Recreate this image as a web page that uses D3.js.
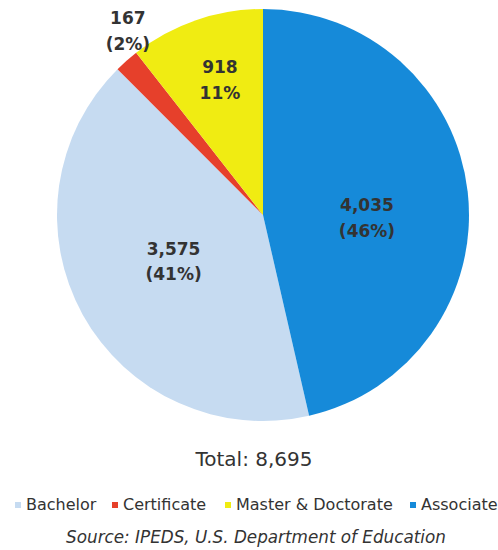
<!DOCTYPE html>
<html>
<head>
<meta charset="utf-8">
<script src="https://cdn.jsdelivr.net/npm/d3@7"></script>
<style>
  body { margin: 0; background: #fff; }
  svg { display: block; }
  .slice-label { font-family: "DejaVu Sans", sans-serif; font-weight: bold; font-size: 17px; fill: #333; }
  .legend-text { font-family: "DejaVu Sans", sans-serif; font-size: 16px; fill: #333; }
</style>
</head>
<body>
<svg id="chart"></svg>
<script>
// chart data
const categories = ['Bachelor', 'Certificate', 'Master & Doctorate', 'Associate'];
const values = [3575, 167, 918, 4035];
const valueLabels = ['3,575', '167', '918', '4,035'];
const percentLabels = ['(41%)', '(2%)', '11%', '(46%)'];
const totalLabel = 'Total: 8,695';
const sourceLabel = 'Source: IPEDS, U.S. Department of Education';

const COLORS = d3.scaleOrdinal()
    .domain(categories)
    .range(['#c6dbf1', '#e6402b', '#f0ec12', '#168ad9']);

const width = 498;
const height = 550;
const cx = 263;
const cy = 215;
const radius = 206;

const svg = d3.select('#chart')
    .attr('width', width)
    .attr('height', height);

const data = categories.map((c, i) => ({ name: c, value: values[i], i: i }));
const total = d3.sum(values);

// Associate starts at 12 o'clock, going clockwise
const start = 2 * Math.PI * (total - values[3]) / total;
const pie = d3.pie()
    .sort(null)
    .value((d) => d.value)
    .startAngle(-start)
    .endAngle(2 * Math.PI - start);

const arc = d3.arc().innerRadius(0).outerRadius(radius);
const arcs = pie(data);

const g = svg.append('g')
    .attr('transform', 'translate(' + cx + ',' + cy + ')');

g.selectAll('path.slice')
    .data(arcs)
    .enter()
    .append('path')
    .attr('class', 'slice')
    .attr('fill', (d) => COLORS(d.data.name))
    .attr('d', arc);

// label placement: radius fraction + angle offset (rad) per slice
const labelArc = [
  { r: 0.49, shift: 0.023 },
  { r: 1.108, shift: 0.09 },
  { r: 0.688, shift: 0.023 },
  { r: 0.505, shift: 0.143 }
];

g.selectAll('text.slice-label')
    .data(arcs)
    .enter()
    .append('text')
    .attr('class', 'slice-label')
    .attr('text-anchor', 'middle')
    .each(function(d, i) {
      const a = (d.startAngle + d.endAngle) / 2 + labelArc[i].shift;
      const r = radius * labelArc[i].r;
      const x = Math.sin(a) * r;
      const y = -Math.cos(a) * r;
      const t = d3.select(this).attr('y', y);
      t.append('tspan').attr('x', x).attr('dy', '-0.4em').text(valueLabels[i]);
      t.append('tspan').attr('x', x).attr('dy', '1.5em').text(percentLabels[i]);
    });

svg.append('text')
    .attr('x', 254)
    .attr('y', 466)
    .attr('text-anchor', 'middle')
    .style('font-family', '"DejaVu Sans", sans-serif')
    .style('font-size', '20px')
    .style('fill', '#333')
    .text(totalLabel);

// legend
const legendX = [15, 112, 225, 410];
const legend = svg.append('g');

legend.selectAll('rect.legend')
    .data(categories)
    .enter()
    .append('rect')
    .attr('class', 'legend')
    .attr('fill', (d) => COLORS(d))
    .attr('x', (d, i) => legendX[i])
    .attr('y', 502)
    .attr('width', 6)
    .attr('height', 6);

legend.selectAll('text.legend-text')
    .data(categories)
    .enter()
    .append('text')
    .attr('class', 'legend-text')
    .attr('x', (d, i) => legendX[i] + 11)
    .attr('y', 510)
    .text((d) => d);

svg.append('text')
    .attr('x', 256)
    .attr('y', 543)
    .attr('text-anchor', 'middle')
    .style('font-family', '"DejaVu Sans", sans-serif')
    .style('font-style', 'italic')
    .style('font-size', '16.8px')
    .style('fill', '#333')
    .text(sourceLabel);
</script>
</body>
</html>
